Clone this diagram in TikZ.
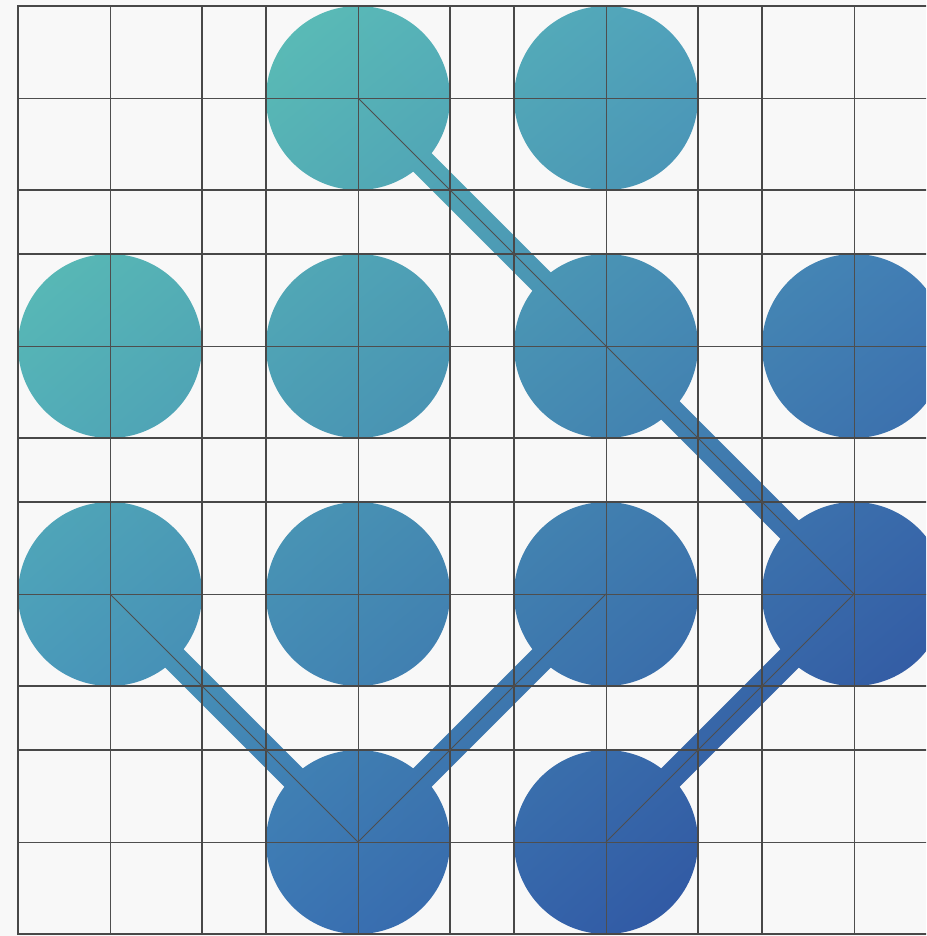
\documentclass[tikz,border=0pt]{standalone}
\usetikzlibrary{calc,shadings}
\definecolor{bgc}{HTML}{F8F8F8}
\definecolor{gUL}{HTML}{62D0B2}
\definecolor{gUR}{HTML}{4A92BE}
\definecolor{gLL}{HTML}{4288BE}
\definecolor{gLR}{HTML}{2A469A}
\definecolor{gridc}{HTML}{484848}
\definecolor{thinc}{HTML}{4E4E4E}
\begin{document}
\begin{tikzpicture}[x=1pt,y=-1pt,
  thickline/.style={draw=gridc, line width=2.7pt, line cap=rect},
  thinline/.style={draw=thinc, line width=0.9pt},
  gradfill/.style={upper left=gUL, upper right=gUR, lower left=gLL, lower right=gLR}]
\useasboundingbox (0,0) rectangle (926,936);
\fill[bgc] (0,0) rectangle (926,936);
\clip (0,0) rectangle (926,936);
% centres
\coordinate (p01) at (358,98);
\coordinate (p02) at (606,98);
\coordinate (p10) at (110,346);
\coordinate (p11) at (358,346);
\coordinate (p12) at (606,346);
\coordinate (p13) at (854,346);
\coordinate (p20) at (110,594);
\coordinate (p21) at (358,594);
\coordinate (p22) at (606,594);
\coordinate (p23) at (854,594);
\coordinate (p31) at (358,842);
\coordinate (p32) at (606,842);
% circles
\begin{scope}
  \clip \foreach \p in {p01,p02,p10,p11,p12,p13,p20,p21,p22,p23,p31,p32} {(\p) circle[radius=92]};
  \shade[gradfill] (0,0) rectangle (926,936);
\end{scope}
% bands
\begin{scope}
  \clip \foreach \a/\b in {p01/p23, p20/p31, p31/p22, p32/p23}
    {($(\a)!13pt!90:(\b)$) -- ($(\b)!13pt!-90:(\a)$) -- ($(\b)!13pt!90:(\a)$) -- ($(\a)!13pt!-90:(\b)$) -- cycle};
  \shade[gradfill] (0,0) rectangle (926,936);
\end{scope}
% thin grid
\foreach \x in {110,358,606,854} \draw[thinline] (\x,6) -- (\x,934);
\foreach \y in {98,346,594,842} \draw[thinline] (18,\y) -- (946,\y);
% thick grid
\foreach \x in {18,202,266,450,514,698,762,946} \draw[thickline] (\x,6) -- (\x,934);
\foreach \y in {6,190,254,438,502,686,750,934} \draw[thickline] (18,\y) -- (946,\y);
% centre lines of connectors
\draw[thinline] (p01) -- (p12) -- (p23) -- (p32);
\draw[thinline] (p20) -- (p31) -- (p22);
\end{tikzpicture}
\end{document}
